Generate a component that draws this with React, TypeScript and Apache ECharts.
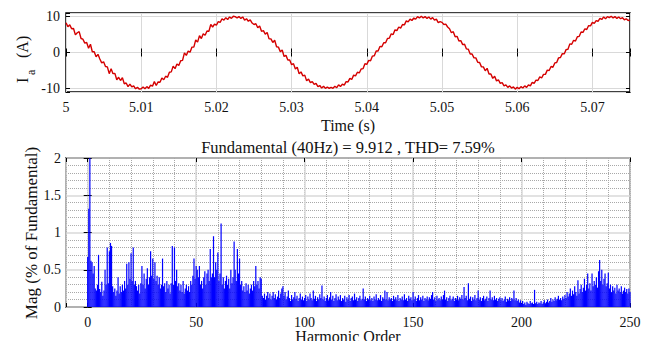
import { useEffect, useRef } from "react";
import * as echarts from "echarts";

// ---- Top panel: phase current Ia (A), sampled every 0.25 ms from t = 5 s ----
const timeStart = 5;
const timeStep = 0.00025;
const currentA = [
  8.3, 7.2, 7.7, 6.6, 6.7, 4.9, 5.5, 5.8, 3.9, 3.7,
  2.6, 2.8, 1.2, 2.3, 0.2, 0.2, -1.2, -0.5, -1.8, -2.9,
  -2.6, -3.9, -4.0, -5.9, -4.5, -5.9, -5.8, -7.6, -6.9, -7.8,
  -7.0, -8.7, -8.5, -9.5, -8.8, -9.6, -9.3, -10.1, -9.7, -10.2,
  -10.1, -9.6, -10.1, -9.5, -10.0, -9.1, -9.4, -8.1, -9.2, -8.2,
  -8.3, -7.1, -7.6, -6.6, -6.9, -5.5, -5.4, -3.8, -4.5, -3.2,
  -3.6, -2.3, -2.2, -0.1, -0.8, 0.4, 0.1, 1.5, 1.5, 3.5,
  2.9, 4.7, 3.9, 5.2, 4.8, 6.0, 5.9, 7.8, 7.1, 7.9,
  7.6, 8.6, 8.4, 9.4, 9.0, 9.7, 9.2, 9.9, 9.5, 10.1,
  10.0, 9.6, 10.0, 9.5, 9.9, 9.0, 9.4, 8.7, 9.1, 8.2,
  7.8, 8.0, 6.9, 7.4, 5.9, 6.1, 5.1, 5.6, 3.8, 3.8,
  2.8, 3.4, 1.6, 1.5, 0.2, 0.7, -1.1, -0.8, -2.1, -2.1,
  -3.4, -3.1, -4.6, -4.1, -5.9, -5.4, -6.5, -6.3, -7.9, -7.4,
  -8.4, -8.1, -8.9, -8.6, -9.5, -9.2, -9.9, -9.4, -10.0, -9.6,
  -10.0, -9.7, -10.0, -9.4, -9.8, -9.0, -9.5, -8.8, -9.1, -8.1,
  -8.2, -7.2, -7.5, -6.3, -6.5, -5.5, -5.7, -4.6, -4.5, -3.1,
  -3.3, -2.2, -2.3, -1.0, -0.9, 0.4, 0.4, 1.7, 1.6, 2.7,
  2.7, 3.9, 4.0, 5.2, 5.0, 6.3, 6.1, 7.1, 6.8, 7.8,
  7.7, 8.8, 8.5, 9.3, 8.9, 9.6, 9.3, 10.0, 9.6, 10.1,
  9.6, 10.0, 9.5, 9.9, 9.3, 9.7, 9.0, 9.3, 8.3, 8.6,
  8.4, 7.8, 7.9, 7.1, 6.6, 5.5, 5.8, 4.4, 4.5, 3.2,
  3.3, 2.2, 2.3, 1.0, 0.9, -0.4, -0.4, -1.5, -1.5, -2.7,
  -2.8, -4.0, -4.0, -5.1, -4.4, -6.0, -6.0, -7.2, -6.6, -7.9,
  -7.6, -8.6, -8.4, -9.3, -9.0, -9.7, -9.3, -9.9, -9.6, -10.2,
  -9.7, -10.1, -9.5, -9.9, -9.3, -9.7, -9.0, -9.3, -8.3, -8.6,
  -7.7, -7.8, -6.8, -7.1, -6.1, -6.1, -4.9, -5.0, -3.9, -4.1,
  -2.9, -2.8, -1.5, -1.4, -0.3, -0.4, 0.8, 0.9, 2.4, 2.3,
  3.4, 3.2, 4.4, 4.5, 5.7, 5.6, 6.6, 6.4, 7.5, 7.4,
  8.4, 8.1, 8.9, 8.7, 9.5, 9.2, 9.9, 9.4, 10.0, 9.7,
  10.1, 9.6, 10.0, 9.5, 9.9, 9.4, 9.7, 9.1, 9.4, 8.9,
  9.1,
];

// ---- Bottom panel: harmonic spectrum, Mag (% of fundamental), every 0.5 order from 0 ----
const harmonicStep = 0.5;
const magnitude = [
  0.67, 1.32, 100, 0.62, 0.6, 0.45, 0.55, 0.25, 0.22, 0.3, 0.7, 0.24, 0.2, 0.34, 0.15, 0.22, 0.5, 0.3, 0.8, 0.32,
  0.75, 0.86, 0.82, 0.28, 0.2, 0.25, 0.15, 0.22, 0.4, 0.18, 0.28, 0.2, 0.3, 0.22, 0.35, 0.25, 0.58, 0.3, 0.6, 0.38,
  0.72, 0.35, 0.8, 0.3, 0.35, 0.28, 0.22, 0.3, 0.18, 0.32, 0.55, 0.3, 0.45, 0.25, 0.38, 0.52, 0.3, 0.4, 0.75, 0.42,
  0.65, 0.38, 0.6, 0.35, 0.42, 0.3, 0.4, 0.25, 0.3, 0.65, 0.28, 0.32, 0.2, 0.35, 0.25, 0.3, 0.18, 0.32, 0.82, 0.3,
  0.8, 0.35, 0.5, 0.28, 0.32, 0.22, 0.3, 0.2, 0.35, 0.18, 0.25, 0.3, 0.22, 0.28, 0.2, 0.35, 0.3, 0.42, 0.65, 0.38,
  0.55, 0.5, 0.4, 0.55, 0.3, 0.35, 0.25, 0.4, 0.48, 0.3, 0.45, 0.5, 0.35, 0.78, 0.4, 0.45, 0.95, 0.4, 0.6, 0.5,
  0.73, 0.35, 0.45, 1.12, 0.3, 0.4, 0.25, 0.35, 0.42, 0.3, 0.38, 0.25, 0.5, 0.32, 0.4, 0.88, 0.5, 0.35, 0.78, 0.45,
  0.65, 0.3, 0.35, 0.22, 0.28, 0.2, 0.32, 0.22, 0.3, 0.18, 0.25, 0.3, 0.22, 0.35, 0.28, 0.55, 0.3, 0.35, 0.25, 0.4,
  0.38, 0.15, 0.12, 0.18, 0.1, 0.15, 0.2, 0.12, 0.18, 0.1, 0.15, 0.2, 0.12, 0.17, 0.1, 0.14, 0.22, 0.12, 0.18, 0.25,
  0.28, 0.15, 0.2, 0.1, 0.14, 0.22, 0.12, 0.08, 0.16, 0.1, 0.13, 0.2, 0.11, 0.15, 0.08, 0.12, 0.18, 0.1, 0.14, 0.09,
  0.12, 0.16, 0.08, 0.14, 0.1, 0.18, 0.12, 0.09, 0.22, 0.11, 0.15, 0.08, 0.13, 0.1, 0.17, 0.12, 0.29, 0.1, 0.14, 0.08,
  0.12, 0.16, 0.09, 0.13, 0.2, 0.1, 0.15, 0.08, 0.12, 0.17, 0.09, 0.14, 0.1, 0.16, 0.08, 0.12, 0.1, 0.15, 0.07, 0.13,
  0.1, 0.16, 0.08, 0.12, 0.14, 0.09, 0.18, 0.1, 0.13, 0.08, 0.12, 0.15, 0.09, 0.11, 0.25, 0.1, 0.14, 0.08, 0.12, 0.1,
  0.15, 0.09, 0.12, 0.08, 0.14, 0.1, 0.17, 0.09, 0.12, 0.1, 0.16, 0.08, 0.13, 0.11, 0.22, 0.1, 0.2, 0.09, 0.13, 0.1,
  0.12, 0.08, 0.15, 0.1, 0.13, 0.09, 0.16, 0.08, 0.12, 0.1, 0.14, 0.09, 0.17, 0.1, 0.12, 0.08, 0.15, 0.11, 0.13, 0.09,
  0.2, 0.1, 0.14, 0.08, 0.12, 0.16, 0.09, 0.13, 0.1, 0.15, 0.08, 0.12, 0.1, 0.14, 0.09, 0.13, 0.11, 0.16, 0.2, 0.1,
  0.13, 0.08, 0.15, 0.1, 0.12, 0.09, 0.14, 0.1, 0.16, 0.22, 0.1, 0.13, 0.08, 0.12, 0.15, 0.09, 0.11, 0.14, 0.08, 0.12,
  0.1, 0.15, 0.09, 0.13, 0.11, 0.16, 0.1, 0.27, 0.12, 0.15, 0.09, 0.32, 0.11, 0.14, 0.08, 0.13, 0.1, 0.16, 0.09, 0.12,
  0.22, 0.1, 0.13, 0.08, 0.12, 0.15, 0.09, 0.11, 0.14, 0.08, 0.12, 0.22, 0.1, 0.13, 0.09, 0.15, 0.1, 0.12, 0.08, 0.11,
  0.13, 0.09, 0.12, 0.08, 0.1, 0.14, 0.07, 0.11, 0.09, 0.13, 0.08, 0.12, 0.1, 0.22, 0.09, 0.12, 0.08, 0.1, 0.06, 0.09,
  0.05, 0.08, 0.04, 0.06, 0.03, 0.07, 0.05, 0.04, 0.08, 0.05, 0.06, 0.04, 0.23, 0.05, 0.07, 0.04, 0.06, 0.05, 0.08, 0.04,
  0.06, 0.09, 0.05, 0.07, 0.1, 0.06, 0.08, 0.12, 0.07, 0.1, 0.08, 0.13, 0.09, 0.11, 0.15, 0.1, 0.12, 0.09, 0.14, 0.11,
  0.16, 0.12, 0.2, 0.14, 0.18, 0.25, 0.15, 0.22, 0.17, 0.28, 0.2, 0.15, 0.36, 0.18, 0.24, 0.3, 0.2, 0.26, 0.38, 0.22,
  0.3, 0.45, 0.25, 0.32, 0.22, 0.45, 0.28, 0.35, 0.3, 0.4, 0.26, 0.48, 0.63, 0.35, 0.5, 0.3, 0.38, 0.45, 0.28, 0.32,
  0.46, 0.25, 0.3, 0.2, 0.28, 0.22, 0.26, 0.18, 0.3, 0.22, 0.25, 0.2, 0.28, 0.18, 0.22, 0.26, 0.2, 0.24, 0.18, 0.25,
  0.2,
];

const titleText = "Fundamental (40Hz) = 9.912 , THD= 7.59%";
const timeLabel = "Time (s)";
const orderLabel = "Harmonic Order";
const magLabel = "Mag (% of Fundamental)";

const FONT = "Liberation Serif";
const TXT = "#111";
const GRID_MAJOR = "#d9d9d9";
const GRID_MINOR = "#a8a8a8";

function txt(text: string, x: number, y: number, size: number, extra: any = {}) {
  const { align, ...rest } = extra;
  return {
    type: "text",
    x,
    y,
    ...rest,
    style: {
      text,
      fontSize: size,
      fontFamily: FONT,
      fill: TXT,
      align: align || "center",
      textAlign: align || "center",
      verticalAlign: "middle",
      textVerticalAlign: "middle",
    },
  };
}

export default function App() {
  const ref = useRef<HTMLDivElement>(null);

  useEffect(() => {
    if (!ref.current) return;
    const chart = echarts.init(ref.current, null, { renderer: "svg" });

    const tickStyle = { inside: true, length: 4, lineStyle: { color: "#000", width: 1 } };
    const labelStyle = { fontFamily: FONT, fontSize: 14, color: TXT };

    const option: any = {
      animation: false,
      backgroundColor: "#fff",
      textStyle: { fontFamily: FONT },
      grid: [
        { left: 66, top: 13, width: 564, height: 79, show: true, borderColor: "#000", borderWidth: 1.5, backgroundColor: "transparent" },
        { left: 66, top: 158, width: 564, height: 149, show: true, borderColor: "#000", borderWidth: 1.5, backgroundColor: "transparent" },
      ],
      xAxis: [
        {
          gridIndex: 0, type: "value", min: 5, max: 5.075, interval: 0.01, position: "bottom",
          axisLine: { show: false }, axisTick: tickStyle,
          axisLabel: {
            ...labelStyle, margin: 8,
            formatter: (v: number) => (Math.abs(v - 5) < 1e-9 ? "5" : v > 5.0705 ? "" : v.toFixed(2)),
          },
          splitLine: { show: true, lineStyle: { color: GRID_MAJOR, width: 1 } },
        },
        {
          gridIndex: 0, type: "value", min: 5, max: 5.075, interval: 0.01, position: "top",
          axisLine: { show: false }, axisTick: tickStyle, axisLabel: { show: false }, splitLine: { show: false },
        },
        {
          gridIndex: 1, type: "value", min: -10, max: 250, interval: 10, position: "bottom",
          axisLine: { show: false }, axisTick: { show: false }, axisLabel: { show: false },
          splitLine: { show: true, lineStyle: { color: GRID_MINOR, width: 1, type: "dotted" } },
        },
        {
          gridIndex: 1, type: "value", min: -10, max: 250, splitNumber: 5, position: "bottom",
          axisLine: { show: false }, axisTick: tickStyle,
          axisLabel: { ...labelStyle, margin: 8, formatter: (v: number) => (v < -5 ? "" : String(v)) },
          splitLine: { show: true, lineStyle: { color: GRID_MAJOR, width: 1.5 } },
        },
        {
          gridIndex: 1, type: "value", min: -10, max: 250, splitNumber: 5, position: "top",
          axisLine: { show: false }, axisTick: tickStyle, axisLabel: { show: false }, splitLine: { show: false },
        },
      ],
      yAxis: [
        {
          gridIndex: 0, type: "value", min: -11, max: 11, splitNumber: 2, position: "left",
          axisLine: { show: false }, axisTick: tickStyle,
          axisLabel: { ...labelStyle, margin: 6, formatter: (v: number) => (Math.abs(v) > 10.5 ? "" : String(v)) },
          splitLine: { show: true, lineStyle: { color: GRID_MAJOR, width: 1 } },
        },
        {
          gridIndex: 0, type: "value", min: -11, max: 11, splitNumber: 2, position: "right",
          axisLine: { show: false }, axisTick: tickStyle, axisLabel: { show: false }, splitLine: { show: false },
        },
        {
          gridIndex: 1, type: "value", min: 0, max: 2, interval: 0.5, position: "left",
          axisLine: { show: false }, axisTick: tickStyle,
          axisLabel: { ...labelStyle, margin: 5 },
          splitLine: { show: true, lineStyle: { color: GRID_MAJOR, width: 1.5 } },
          minorTick: { show: false, splitNumber: 5 },
          minorSplitLine: { show: true, lineStyle: { color: GRID_MINOR, width: 1, type: "dotted" } },
        },
        {
          gridIndex: 1, type: "value", min: 0, max: 2, interval: 0.5, position: "right",
          axisLine: { show: false }, axisTick: tickStyle, axisLabel: { show: false }, splitLine: { show: false },
        },
      ],
      series: [
        {
          type: "line",
          xAxisIndex: 0,
          yAxisIndex: 0,
          showSymbol: false,
          symbol: "none",
          lineStyle: { color: "#d40000", width: 1.4 },
          data: currentA.map((v, i) => [timeStart + i * timeStep, v]),
        },
        {
          type: "bar",
          xAxisIndex: 3,
          yAxisIndex: 2,
          barWidth: 1.2,
          itemStyle: { color: "#0000ff" },
          data: magnitude.map((v, i) => [i * harmonicStep, v]),
        },
      ],
      graphic: [
        txt(timeLabel, 348, 125, 16),
        txt(titleText, 348, 147, 16.5),
        txt(orderLabel, 348, 336, 16),
        txt(magLabel, 31, 233, 17, { rotation: Math.PI / 2 }),
        {
          type: "group",
          x: 22,
          y: 83,
          rotation: Math.PI / 2,
          children: [
            txt("I", 0, 0, 16, { align: "left" }),
            txt("a", 8, 9, 12, { align: "left" }),
            txt("(A)", 25, 0, 16, { align: "left" }),
          ],
        },
      ],
    };

    chart.setOption(option);
    return () => chart.dispose();
  }, []);

  return (
    <div
      ref={ref}
      style={{ position: "fixed", left: 0, top: 0, width: 653, height: 341, background: "#fff" }}
    />
  );
}
